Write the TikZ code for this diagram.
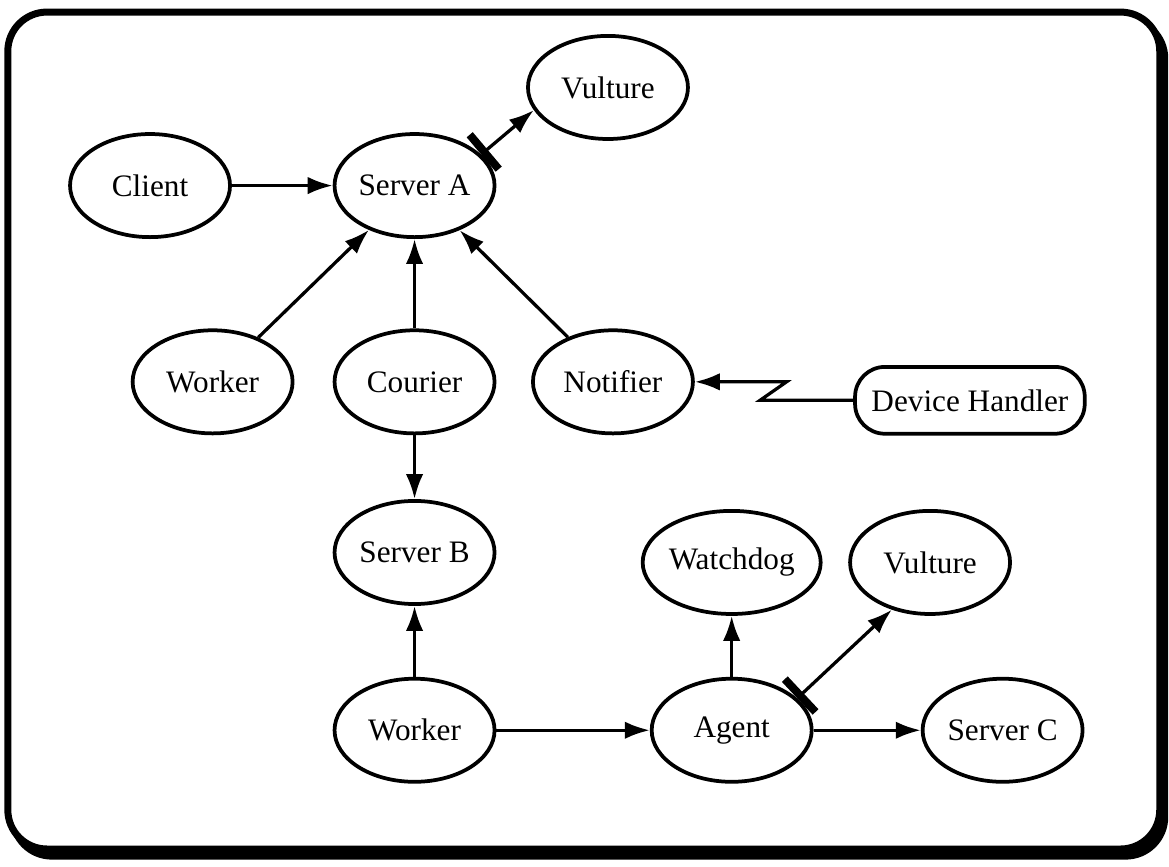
\documentclass[tikz,border=0pt]{standalone}
\usepackage{fontspec}
\setmainfont{Liberation Serif}
\usetikzlibrary{arrows.meta,calc,shapes.geometric}
\begin{document}
\begin{tikzpicture}[
    proc/.style={draw,ellipse,line width=1.5pt,minimum width=2.25cm,minimum height=1.45cm,inner sep=0pt,font=\fontsize{12.5}{14}\selectfont},
    dev/.style={draw,rounded corners=0.42cm,line width=1.5pt,minimum width=3.23cm,minimum height=0.94cm,inner sep=0pt,font=\fontsize{12.5}{14}\selectfont},
    arr/.style={-{Latex[length=10pt,width=7pt]},line width=1.3pt},
    barr/.style={{Bar[width=18pt,line width=3.2pt]}-{Latex[length=10pt,width=7pt]},line width=1.3pt}
]
\useasboundingbox (0,0) rectangle (16.44,12.18);
% frame with drop shadow
\draw[line width=2.8pt,fill=black,rounded corners=0.55cm] (0.18,0.14) rectangle (16.38,11.91);
\draw[line width=2.8pt,fill=white,rounded corners=0.55cm] (0.11,0.24) rectangle (16.31,12.01);

\node[proc] (vt) at (8.55,10.95) {Vulture};
\node[proc] (cl) at (2.11,9.57) {Client};
\node[proc] (sa) at (5.83,9.57) {Server A};
\node[proc] (wt) at (2.99,6.81) {Worker};
\node[proc] (co) at (5.83,6.81) {Courier};
\node[proc] (no) at (8.62,6.81) {Notifier};
\node[dev] (dh) at (13.64,6.55) {Device Handler};
\node[proc] (sb) at (5.83,4.41) {Server B};
\node[proc] (wd) at (10.29,4.27) {Watchdog};
\node[proc] (vb) at (13.08,4.27) {Vulture};
\node[proc] (wb) at (5.83,1.91) {Worker};
\node[proc] (ag) at (10.29,1.91) {Agent};
\node[proc] (sc) at (14.10,1.91) {Server C};

\draw[arr] (cl) -- (sa);
\draw[arr] (wt) -- (sa);
\draw[arr] (co) -- (sa);
\draw[arr] (no) -- (sa);
\draw[barr] (sa.25) -- (vt.197);
% signal from the device
\draw[arr] (dh.west) -- ++(-1.31,0) -- ($(no.east)+(1.29,0)$) -- (no.east);
\draw[arr] (co) -- (sb);
\draw[arr] (wb) -- (sb);
\draw[arr] (wb) -- (ag);
\draw[arr] (ag) -- (wd);
\draw[arr] (ag) -- (sc);
\draw[barr] (ag.26) -- (vb.231);
\end{tikzpicture}
\end{document}
